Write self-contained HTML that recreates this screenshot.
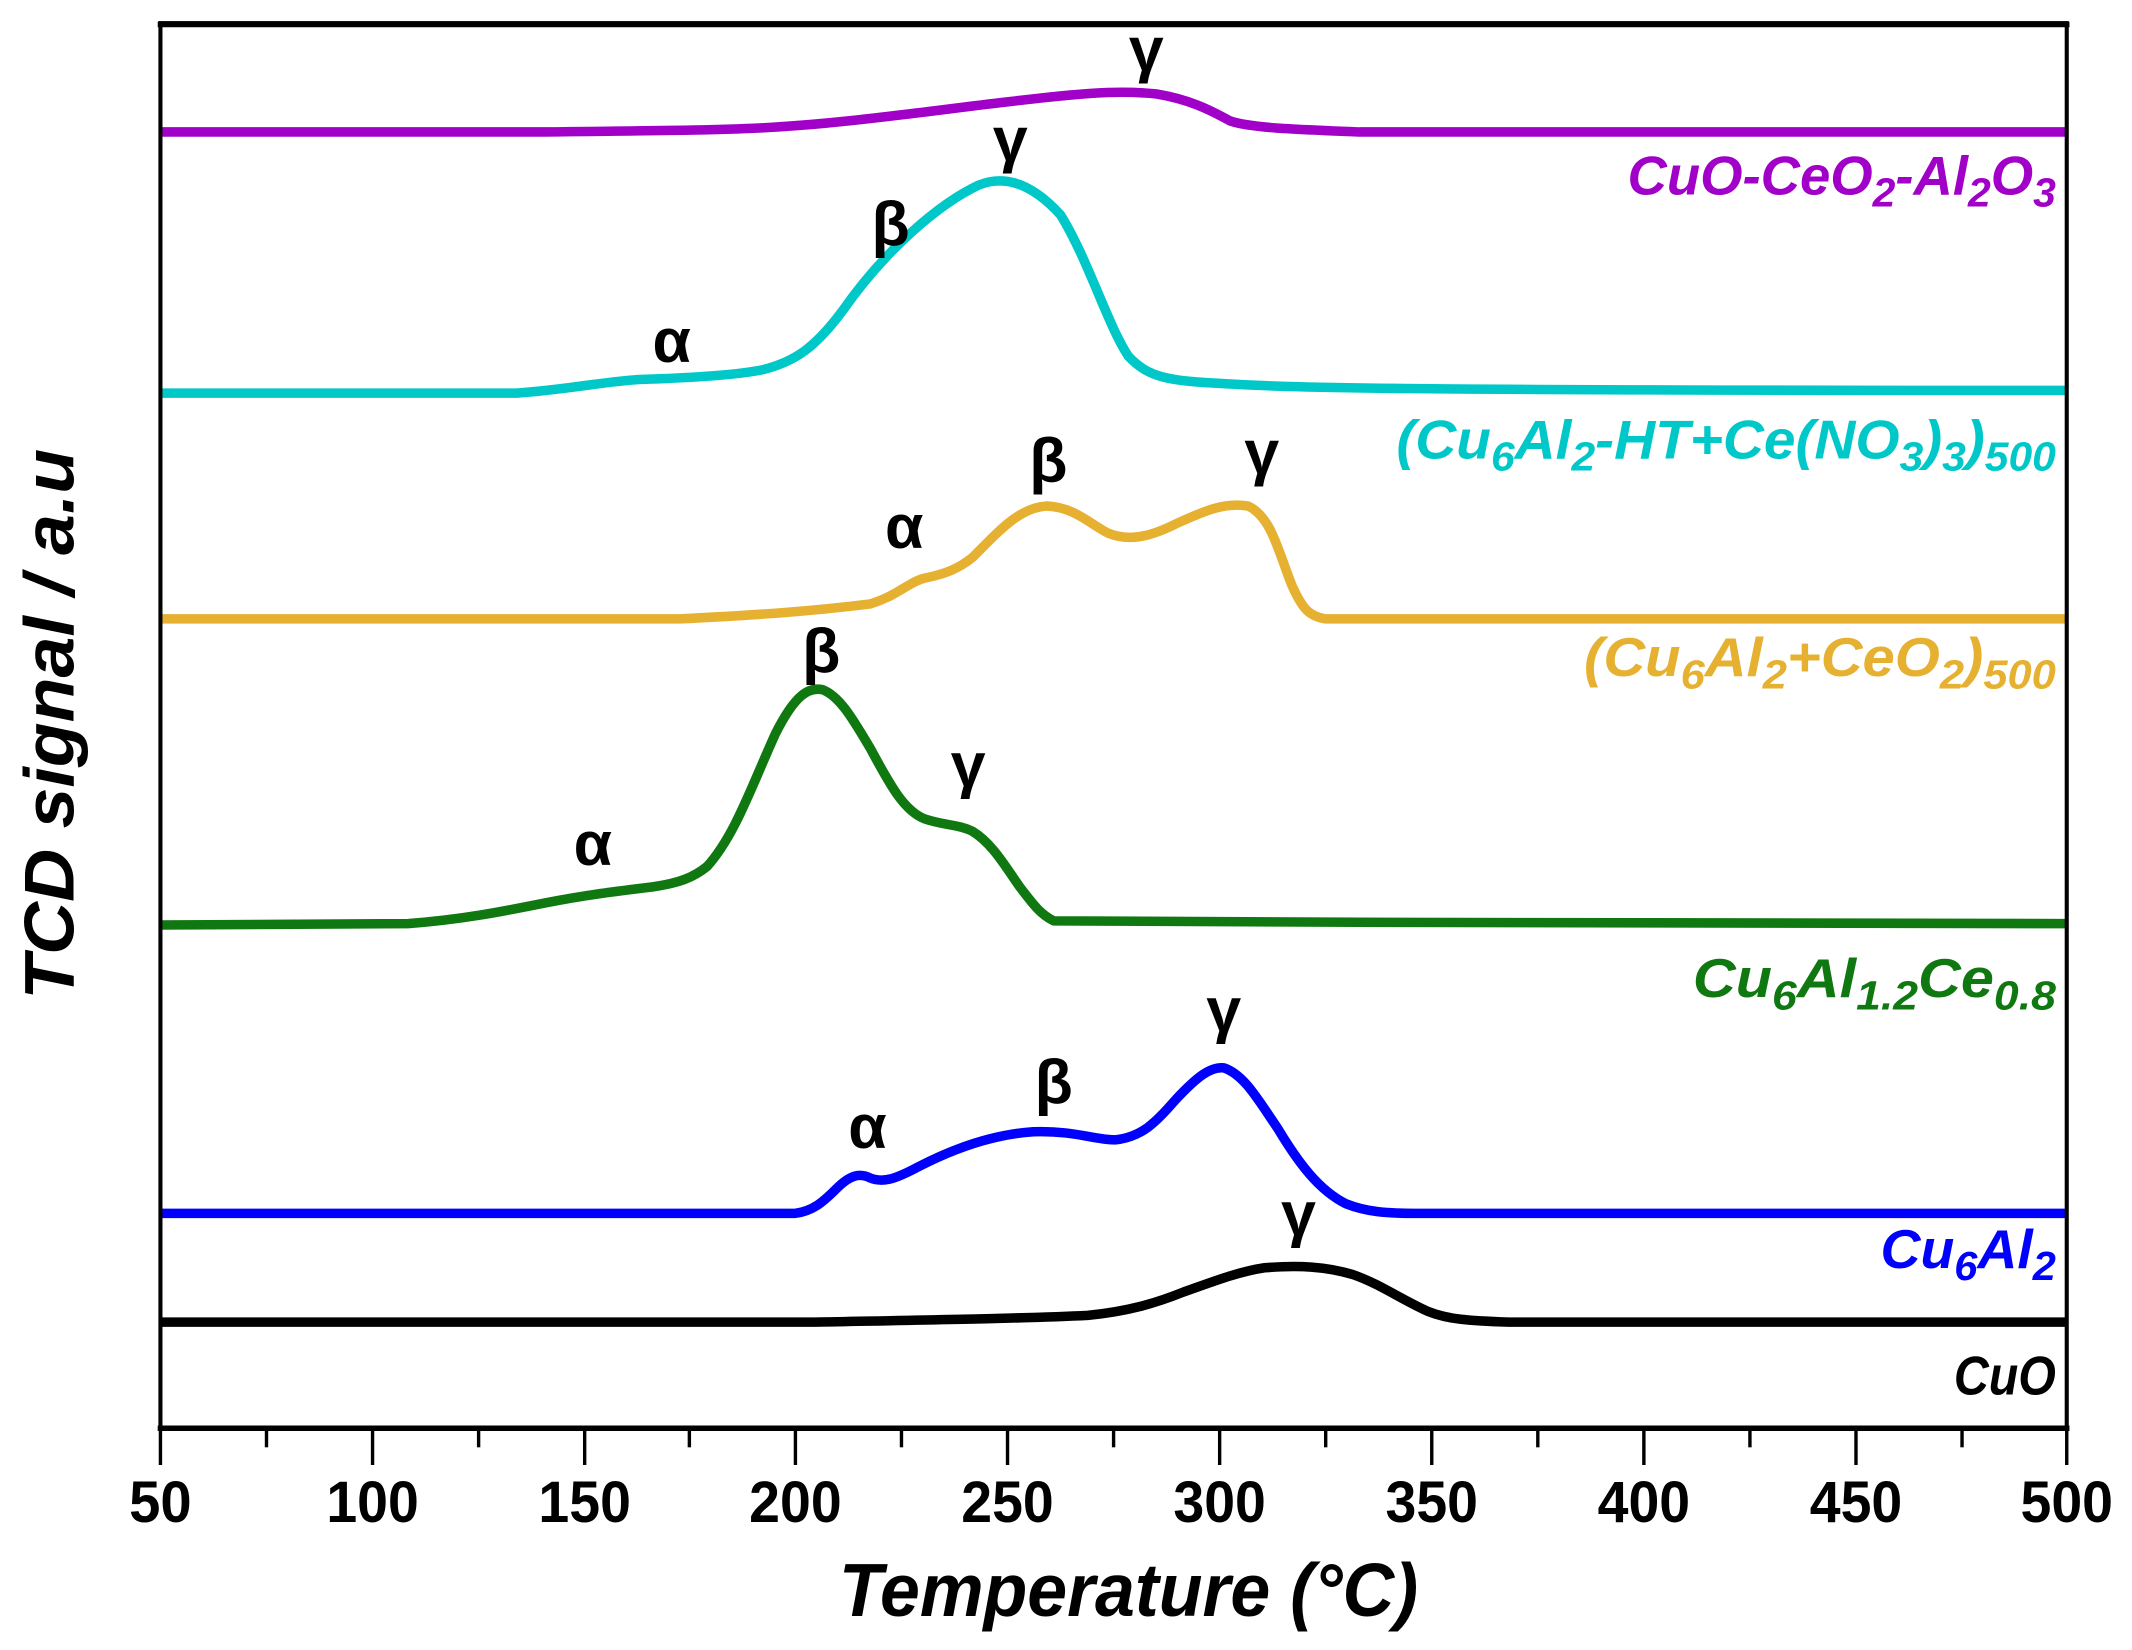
<!DOCTYPE html>
<html><head><meta charset="utf-8"><style>html,body{margin:0;padding:0;background:#fff}svg{display:block}</style></head>
<body>
<svg width="2132" height="1650" viewBox="0 0 1568 1213" preserveAspectRatio="none" xmlns="http://www.w3.org/2000/svg" font-family="Liberation Sans, Arial, sans-serif">
<g fill="none" stroke-width="7" stroke-linejoin="round" stroke-linecap="butt">
<path stroke="#a000c8" d="M118,97 L400,97 C480,96 520,96 560,94 C620,91 680,82 740,75 C790,69 820,66 850,69 C880,74 895,84 905,89 C920,94 950,95 1000,97 L1520,97"/>
<path stroke="#00c8c8" d="M118,289 L380,289 C420,286 440,281 470,279 C500,278 540,276 560,272 C585,266 600,255 620,228 C650,185 690,150 720,136 C740,128 760,136 780,158 C800,190 815,240 830,262 C845,278 860,280 900,282 C950,285 1000,287 1520,287"/>
<path stroke="#e6b030" d="M118,455 L500,455 C560,452 600,449 640,444 C660,438 668,428 680,425 C695,422 705,418 715,410 C735,390 750,373 770,372 C790,373 800,384 815,392 C830,398 845,395 865,385 C885,376 900,369 918,372 C935,380 940,405 950,430 C958,448 963,453 975,455 L1520,455"/>
<path stroke="#107810" d="M118,680 L300,679 C340,676 370,670 400,664 C430,658 455,655 480,652 C500,649 510,645 520,637 C540,615 552,580 570,540 C585,510 595,505 605,507 C618,512 628,530 640,550 C655,578 665,596 680,602 C695,607 705,606 715,611 C730,620 740,638 750,652 C760,665 765,672 775,677 L1000,678 L1520,679"/>
<path stroke="#0000ff" d="M118,892 L585,892 C598,890 605,884 615,874 C625,864 632,862 640,866 C650,870 660,866 675,858 C700,845 730,834 760,832 C790,831 805,838 820,838 C840,836 850,825 865,808 C880,792 890,784 900,785 C915,790 925,808 940,830 C955,855 970,875 990,885 C1005,891 1020,892 1040,892 L1520,892"/>
<path stroke="#000" d="M118,972 L600,972 C700,970 760,969 800,967 C830,964 850,958 870,950 C890,943 910,935 930,932 C955,930 975,931 995,937 C1015,944 1030,955 1050,964 C1065,970 1080,971 1110,972 L1520,972"/>
</g>
<rect x="118" y="17" width="1402" height="1033" fill="none" stroke="#000" stroke-width="3"/>
<line x1="116" y1="1050" x2="1522" y2="1050" stroke="#000" stroke-width="4"/>
<line x1="116" y1="18" x2="1522" y2="18" stroke="#000" stroke-width="4"/>
<g stroke="#000" stroke-width="2.5">
<line x1="118" y1="1050" x2="118" y2="1077"/><line x1="196" y1="1050" x2="196" y2="1064"/>
<line x1="274" y1="1050" x2="274" y2="1077"/><line x1="352" y1="1050" x2="352" y2="1064"/>
<line x1="430" y1="1050" x2="430" y2="1077"/><line x1="507" y1="1050" x2="507" y2="1064"/>
<line x1="585" y1="1050" x2="585" y2="1077"/><line x1="663" y1="1050" x2="663" y2="1064"/>
<line x1="741" y1="1050" x2="741" y2="1077"/><line x1="819" y1="1050" x2="819" y2="1064"/>
<line x1="897" y1="1050" x2="897" y2="1077"/><line x1="975" y1="1050" x2="975" y2="1064"/>
<line x1="1053" y1="1050" x2="1053" y2="1077"/><line x1="1131" y1="1050" x2="1131" y2="1064"/>
<line x1="1209" y1="1050" x2="1209" y2="1077"/><line x1="1287" y1="1050" x2="1287" y2="1064"/>
<line x1="1365" y1="1050" x2="1365" y2="1077"/><line x1="1443" y1="1050" x2="1443" y2="1064"/>
<line x1="1520" y1="1050" x2="1520" y2="1077"/>
</g>
<g font-size="43" font-weight="bold" text-anchor="middle" fill="#000">
<text x="118" y="1119" textLength="46" lengthAdjust="spacingAndGlyphs">50</text><text x="274" y="1119" textLength="68" lengthAdjust="spacingAndGlyphs">100</text><text x="430" y="1119" textLength="68" lengthAdjust="spacingAndGlyphs">150</text>
<text x="585" y="1119" textLength="68" lengthAdjust="spacingAndGlyphs">200</text><text x="741" y="1119" textLength="68" lengthAdjust="spacingAndGlyphs">250</text><text x="897" y="1119" textLength="68" lengthAdjust="spacingAndGlyphs">300</text>
<text x="1053" y="1119" textLength="68" lengthAdjust="spacingAndGlyphs">350</text><text x="1209" y="1119" textLength="68" lengthAdjust="spacingAndGlyphs">400</text><text x="1365" y="1119" textLength="68" lengthAdjust="spacingAndGlyphs">450</text>
<text x="1520" y="1119" textLength="68" lengthAdjust="spacingAndGlyphs">500</text>
</g>
<text x="617" y="1188" font-size="55" font-weight="bold" font-style="italic" textLength="426" lengthAdjust="spacingAndGlyphs">Temperature (°C)</text>
<text transform="translate(54,735) rotate(-90)" font-size="52" font-weight="bold" font-style="italic" textLength="405" lengthAdjust="spacingAndGlyphs">TCD signal / a.u</text>
<g font-size="40" font-weight="bold" font-style="italic" text-anchor="end">
<text x="1512" y="143" fill="#a000c8" textLength="315" lengthAdjust="spacingAndGlyphs">CuO-CeO<tspan font-size="30" dy="9">2</tspan><tspan dy="-9">-Al</tspan><tspan font-size="30" dy="9">2</tspan><tspan dy="-9">O</tspan><tspan font-size="30" dy="9">3</tspan></text>
<text x="1512" y="337" fill="#00c8c8" textLength="485" lengthAdjust="spacingAndGlyphs">(Cu<tspan font-size="30" dy="9">6</tspan><tspan dy="-9">Al</tspan><tspan font-size="30" dy="9">2</tspan><tspan dy="-9">-HT+Ce(NO</tspan><tspan font-size="30" dy="9">3</tspan><tspan dy="-9">)</tspan><tspan font-size="30" dy="9">3</tspan><tspan dy="-9">)</tspan><tspan font-size="30" dy="9">500</tspan></text>
<text x="1512" y="497" fill="#e6b030" textLength="347" lengthAdjust="spacingAndGlyphs">(Cu<tspan font-size="30" dy="9">6</tspan><tspan dy="-9">Al</tspan><tspan font-size="30" dy="9">2</tspan><tspan dy="-9">+CeO</tspan><tspan font-size="30" dy="9">2</tspan><tspan dy="-9">)</tspan><tspan font-size="30" dy="9">500</tspan></text>
<text x="1512" y="733" fill="#107810" textLength="267" lengthAdjust="spacingAndGlyphs">Cu<tspan font-size="30" dy="9">6</tspan><tspan dy="-9">Al</tspan><tspan font-size="30" dy="9">1.2</tspan><tspan dy="-9">Ce</tspan><tspan font-size="30" dy="9">0.8</tspan></text>
<text x="1512" y="932" fill="#0000ff" textLength="129" lengthAdjust="spacingAndGlyphs">Cu<tspan font-size="30" dy="9">6</tspan><tspan dy="-9">Al</tspan><tspan font-size="30" dy="9">2</tspan></text>
<text x="1512" y="1025" fill="#000" textLength="75" lengthAdjust="spacingAndGlyphs">CuO</text>
</g>
<g font-size="46" font-weight="bold" text-anchor="middle" fill="#000">
<text x="843" y="52">γ</text>
<text x="743" y="118">γ</text><text x="655" y="180">β</text><text x="494" y="266">α</text>
<text x="665" y="403">α</text><text x="771" y="354">β</text><text x="928" y="348">γ</text>
<text x="604" y="494">β</text><text x="436" y="636">α</text><text x="712" y="578">γ</text>
<text x="638" y="844">α</text><text x="775" y="811">β</text><text x="900" y="758">γ</text>
<text x="955" y="908">γ</text>
</g>
</svg>
</body></html>
